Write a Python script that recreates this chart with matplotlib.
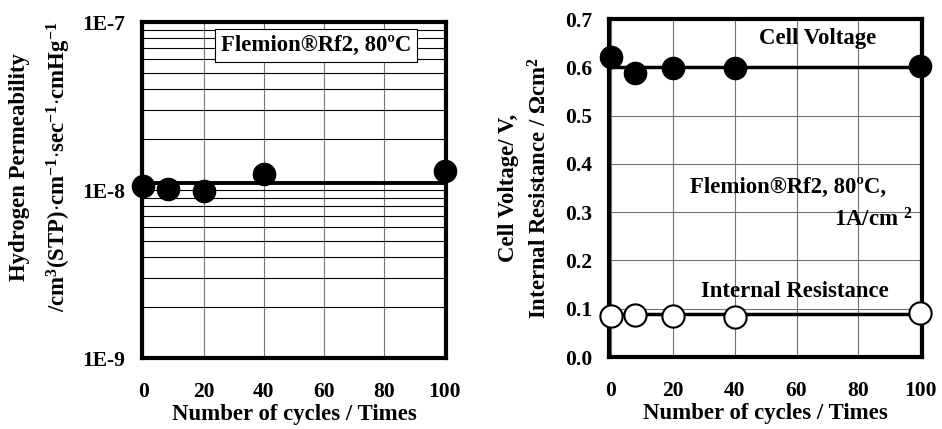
import matplotlib
matplotlib.use("Agg")
import matplotlib.pyplot as plt

# data
cycles = [0, 8, 20, 40, 100]
permeability = [1.06e-8, 1.01e-8, 0.99e-8, 1.25e-8, 1.30e-8]
permeability_fit = 1.105e-8
cell_voltage = [0.621, 0.588, 0.598, 0.598, 0.603]
voltage_fit = 0.601
internal_resistance = [0.085, 0.087, 0.085, 0.082, 0.091]
resistance_fit = 0.090
perm_ticks = [1e-9, 1e-8, 1e-7]
perm_tick_labels = ["1E-9", "1E-8", "1E-7"]
volt_ticks = [0.0, 0.1, 0.2, 0.3, 0.4, 0.5, 0.6, 0.7]
volt_tick_labels = ["0.0", "0.1", "0.2", "0.3", "0.4", "0.5", "0.6", "0.7"]
x_ticks = [0, 20, 40, 60, 80, 100]

plt.rcParams["font.family"] = ["Liberation Serif", "DejaVu Serif"]
plt.rcParams["font.weight"] = "bold"
plt.rcParams["mathtext.fontset"] = "custom"
plt.rcParams["mathtext.rm"] = "Liberation Serif:bold"
plt.rcParams["mathtext.bf"] = "Liberation Serif:bold"
plt.rcParams["mathtext.it"] = "Liberation Serif:bold"
plt.rcParams["font.size"] = 15.5
LABEL_SIZE = 16.4

fig = plt.figure(figsize=(9.42, 4.29), dpi=100)
ax1 = fig.add_axes([0.1507, 0.1655, 0.3228, 0.7832])
ax2 = fig.add_axes([0.6465, 0.1678, 0.3323, 0.7879])


def style_axes(ax):
    for sp in ax.spines.values():
        sp.set_linewidth(3)
    ax.tick_params(which="both", length=0)
    ax.tick_params(axis="x", pad=17)
    ax.tick_params(axis="y", pad=12)
    ax.set_xlim(-0.5, 100.5)
    ax.set_xticks(x_ticks)
    ax.set_xlabel("Number of cycles / Times", fontweight="bold",
                  fontsize=LABEL_SIZE, labelpad=2)
    ax.set_axisbelow(True)


# left: hydrogen permeability
style_axes(ax1)
ax1.set_yscale("log")
ax1.set_ylim(1e-9, 1e-7)
ax1.set_yticks(perm_ticks)
ax1.set_yticklabels(perm_tick_labels)
ax1.yaxis.set_minor_formatter(matplotlib.ticker.NullFormatter())
ax1.grid(which="both", axis="y", color="black", lw=0.8)
ax1.grid(which="major", axis="x", color="0.45", lw=0.8)
ax1.plot([cycles[0], cycles[-1]], [permeability_fit] * 2, color="black", lw=2.8,
         zorder=3)
ax1.plot(cycles, permeability, "o", color="black", ms=16, clip_on=False, zorder=4)
ax1.text(0.572, 0.93, "Flemion®Rf2, 80ºC", transform=ax1.transAxes,
         ha="center", va="center", fontsize=LABEL_SIZE,
         bbox=dict(boxstyle="square,pad=0.25", fc="white", ec="black", lw=0.8))
fig.text(0.021, 0.61, "Hydrogen Permeability", rotation=90, ha="center",
         va="center", fontsize=LABEL_SIZE)
fig.text(0.062, 0.61,
         r"/cm$^{3}$(STP)$\cdot$cm$^{-1}$$\cdot$sec$^{-1}$$\cdot$cmHg$^{-1}$",
         rotation=90, ha="center", va="center", fontsize=LABEL_SIZE)

# right: cell voltage and internal resistance
style_axes(ax2)
ax2.set_ylim(0, 0.7)
ax2.set_yticks(volt_ticks)
ax2.set_yticklabels(volt_tick_labels)
ax2.grid(which="major", color="0.45", lw=0.8)
ax2.plot([cycles[0], cycles[-1]], [voltage_fit] * 2, color="black", lw=2.5, zorder=3)
ax2.plot([cycles[0], cycles[-1]], [resistance_fit] * 2, color="black", lw=2.5,
         zorder=3)
ax2.plot(cycles, cell_voltage, "o", color="black", ms=16, clip_on=False, zorder=4)
ax2.plot(cycles, internal_resistance, "o", mfc="white", mec="black", mew=1.5,
         ms=16, clip_on=False, zorder=4)
ax2.text(0.665, 0.941, "Cell Voltage", transform=ax2.transAxes, ha="center",
         va="center", fontsize=LABEL_SIZE)
ax2.text(0.885, 0.503, "Flemion®Rf2, 80ºC,", transform=ax2.transAxes, ha="right",
         va="center", fontsize=LABEL_SIZE)
ax2.text(0.968, 0.405, r"1A/cm $^{2}$", transform=ax2.transAxes, ha="right",
         va="center", fontsize=LABEL_SIZE)
ax2.text(0.594, 0.195, "Internal Resistance", transform=ax2.transAxes,
         ha="center", va="center", fontsize=LABEL_SIZE)
ax2.set_ylabel("Cell Voltage/ V,\n" + r"Internal Resistance / $\Omega$cm$^{2}$",
               fontweight="bold", fontsize=LABEL_SIZE, labelpad=10,
               linespacing=1.5)

fig.savefig("out.png", dpi=100)
